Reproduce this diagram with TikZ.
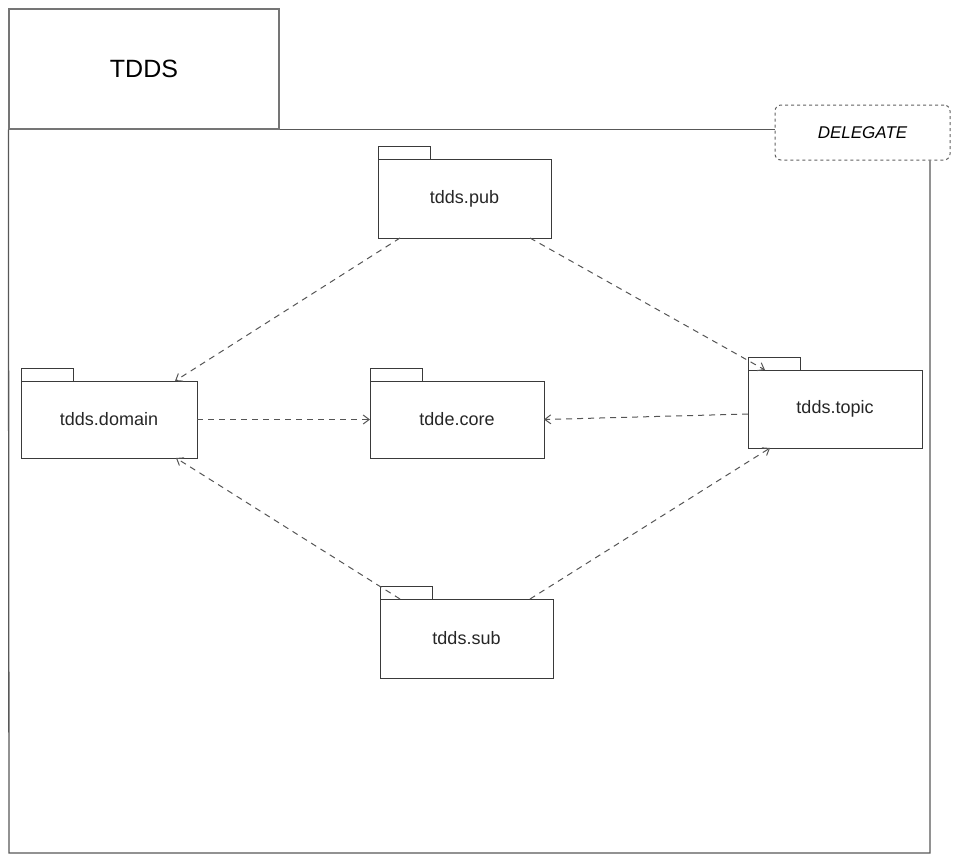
\documentclass[tikz,border=0pt]{standalone}
\usepackage{fontspec}
\setmainfont{Liberation Sans}
\usetikzlibrary{arrows.meta}
\definecolor{edge}{HTML}{3A3A3A}
\definecolor{dep}{HTML}{555555}
\tikzset{
  pkgbody/.style={draw=edge, line width=0.8pt, inner sep=0pt, outer sep=0pt,
    minimum width=174pt, minimum height=78pt, font=\fontsize{18}{20}\selectfont, text=black!85},
  pkgtab/.style={draw=edge, line width=0.7pt},
  frameline/.style={draw=edge!85, line width=1.3pt},
  depline/.style={draw=dep, line width=1pt, dash pattern=on 6pt off 5pt,
    -{Straight Barb[length=6pt,width=9pt]}},
}
\begin{document}
\begin{tikzpicture}[x=1pt,y=-1pt]
\useasboundingbox (0,0) rectangle (963,855);
% outer frame
\node[draw=edge!70, line width=1.2pt, inner sep=0pt, minimum width=270pt, minimum height=120pt,
  font=\fontsize{25}{28}\selectfont] (tdds) at (144,69) {TDDS};
\node[draw=edge!80, line width=1pt, dashed, rounded corners=6pt, inner sep=0pt,
  minimum width=175pt, minimum height=55pt, font=\itshape\fontsize{17}{20}\selectfont]
  (delegate) at (862.5,132.5) {DELEGATE};
\coordinate (fbl) at (9,853);
\coordinate (fbr) at (930,853);
\draw[frameline] (tdds.south east) -- (tdds.south east -| delegate.west);
\draw[frameline] (tdds.south west) -- (fbl) -- (fbr) -- (fbr |- delegate.south);
% packages
\node[pkgbody, minimum width=173pt, minimum height=79pt] (pub) at (464.5,198.5) {tdds.pub};
\node[pkgbody, minimum width=176pt, minimum height=77pt] (domain) at (109,419.5) {tdds.domain};
\node[pkgbody, minimum width=174pt, minimum height=77pt] (core) at (457,419.5) {tdde.core};
\node[pkgbody, minimum width=174pt, minimum height=78pt] (topic) at (835,409) {tdds.topic};
\node[pkgbody, minimum width=173pt, minimum height=79pt] (sub) at (466.5,638.5) {tdds.sub};
\foreach \p in {pub,domain,core,topic,sub}{
  \draw[pkgtab] (\p.north west) rectangle ++(52,-13);
}
% dependencies
\draw[depline] ([xshift=22pt]pub.south west) -- ([xshift=154pt]domain.north west);
\draw[depline] ([xshift=152pt]pub.south west) -- ([xshift=17pt]topic.north west);
\draw[depline] (domain.east) -- (core.west);
\draw[depline] ([yshift=-5pt]topic.west) -- (core.east);
\draw[depline] ([xshift=20pt]sub.north west) -- ([xshift=155pt]domain.south west);
\draw[depline] ([xshift=150pt]sub.north west) -- ([xshift=22pt]topic.south west);
\end{tikzpicture}
\end{document}
